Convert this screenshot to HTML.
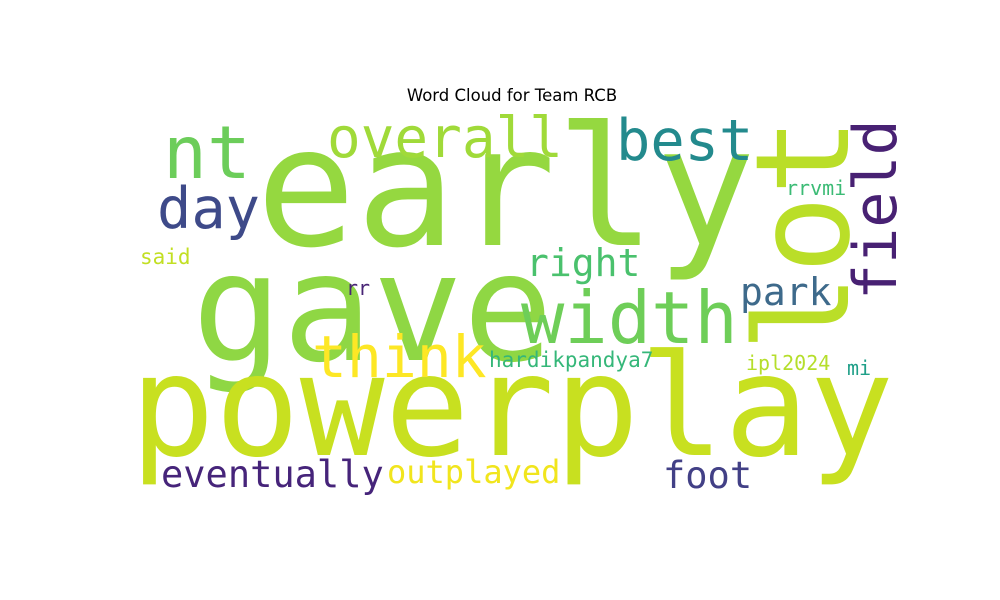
<!DOCTYPE html>
<html><head><meta charset="utf-8">
<style>
html,body{margin:0;padding:0;background:#fff;}
svg{display:block;}
.w{font-family:"DejaVu Sans Mono","Liberation Mono",monospace;}
</style></head>
<body>
<svg width="1000" height="600" viewBox="0 0 1000 600">
<rect width="1000" height="600" fill="#fff"/>
<text x="512" y="101" text-anchor="middle" font-family="DejaVu Sans, Liberation Sans, sans-serif" font-size="16.5" fill="#000">Word Cloud for Team RCB</text>
<g id="cloud"></g>
</svg>
<script>
const words = ["early","gave","powerplay","lot","field","nt","overall","best","day","right","said","rrvmi","width","park","rr","think","hardikpandya7","ipl2024","mi","eventually","outplayed","foot"];
const sizes = [166,150,141,130,60,73,56,57,57,38,21,20,72,38,20,58,21,20,20,37,32,37];
const colors = ["#95d840","#8fd744","#c8e020","#bade28","#482173","#6ccd5a","#a0da39","#238a8d","#3e4a89","#4ac16d","#c2df23","#3bbb75","#6ece58","#3e6a8b","#482475","#fde725","#35b779","#b5de2b","#1f9f88","#46247a","#f1e51d","#424086"];
const posX = [256,192,130,848,896,163,327,616,157,526,140,786,521,740,346,312,489,746,847,161,387,663];
const posY = [245,360,455,352,300,178,157,160,228,276,264,195,343,305,295,377,367,370,375,487,483,488];
const rot = [0,0,0,1,1,0,0,0,0,0,0,0,0,0,0,0,0,0,0,0,0,0];
const g = document.getElementById('cloud');
const NS = 'http://www.w3.org/2000/svg';
words.forEach((w,i)=>{
  const t = document.createElementNS(NS,'text');
  t.setAttribute('class','w');
  t.setAttribute('font-size',sizes[i]);
  t.setAttribute('fill',colors[i]);
  if(rot[i]){
    t.setAttribute('transform','translate('+posX[i]+','+posY[i]+') rotate(-90)');
    t.setAttribute('x',0); t.setAttribute('y',0);
  } else {
    t.setAttribute('x',posX[i]); t.setAttribute('y',posY[i]);
  }
  t.textContent = w;
  
  
  g.appendChild(t);
});
</script>
</body></html>
